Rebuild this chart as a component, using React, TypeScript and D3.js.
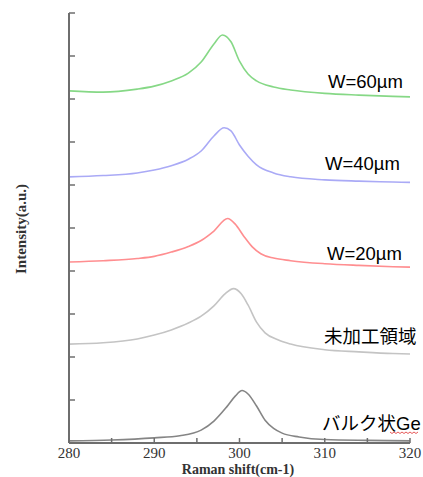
import React from "react";
import * as d3 from "d3";

const xTicks = [280, 285, 290, 295, 300, 305, 310, 315, 320];
const xTickLabels = ["280", "", "290", "", "300", "", "310", "", "320"];
const yTicks = [0, 1, 2, 3, 4, 5, 6, 7, 8, 9, 10];

const seriesNames = ["W=60µm", "W=40µm", "W=20µm", "未加工領域", "バルク状Ge"];
const seriesColors = ["#86d886", "#aaaaf6", "#ff8e90", "#c4c4c4", "#858585"];

const shiftW60 = [280, 284, 288, 290, 292, 294, 295.5, 297, 298, 299, 300, 301, 302, 304, 306, 310, 314, 318, 320];
const intW60 = [8.19, 8.16, 8.23, 8.3, 8.42, 8.6, 8.86, 9.28, 9.49, 9.33, 8.88, 8.58, 8.42, 8.28, 8.21, 8.13, 8.09, 8.06, 8.05];

const shiftW40 = [280, 284, 288, 290, 292, 294, 295.5, 297, 298.2, 299, 300, 301, 302, 304, 306, 310, 314, 318, 320];
const intW40 = [6.19, 6.22, 6.28, 6.35, 6.45, 6.6, 6.79, 7.14, 7.33, 7.26, 6.93, 6.67, 6.47, 6.28, 6.19, 6.12, 6.09, 6.07, 6.06];

const shiftW20 = [280, 284, 288, 290, 292, 294, 295.5, 297, 298.6, 299.5, 300.5, 301.5, 302.5, 304, 306, 310, 314, 318, 320];
const intW20 = [4.21, 4.24, 4.29, 4.34, 4.44, 4.57, 4.71, 4.93, 5.22, 5.09, 4.81, 4.56, 4.4, 4.3, 4.24, 4.17, 4.13, 4.1, 4.09];

const shiftRaw = [280, 284, 288, 290, 292, 294, 295.5, 297, 298.3, 299.3, 300.2, 301, 302, 303, 304.5, 306, 310, 314, 318, 320];
const intRaw = [2.3, 2.33, 2.42, 2.51, 2.63, 2.79, 2.95, 3.19, 3.47, 3.59, 3.47, 3.21, 2.81, 2.56, 2.4, 2.3, 2.17, 2.12, 2.08, 2.07];

const shiftBulk = [280, 285, 290, 293, 295.5, 297, 298.5, 299.5, 300.3, 301, 302, 303, 304, 305, 307, 310, 315, 320];
const intBulk = [0.05, 0.07, 0.12, 0.17, 0.3, 0.51, 0.84, 1.09, 1.22, 1.14, 0.86, 0.53, 0.34, 0.23, 0.14, 0.08, 0.06, 0.05];

const seriesShifts = [shiftW60, shiftW40, shiftW20, shiftRaw, shiftBulk];
const seriesInts = [intW60, intW40, intW20, intRaw, intBulk];

const labelPos = [
  { x: 328, y: 87.5 },
  { x: 325, y: 170 },
  { x: 327, y: 259.5 },
  { x: 324, y: 342.5 },
  { x: 322, y: 430 },
];

export default function App() {
  const width = 423;
  const height = 477;
  const x = d3.scaleLinear().domain([280, 320]).range([69, 410]);
  const y = d3.scaleLinear().domain([0, 10]).range([443, 13]);
  const line = d3
    .line<[number, number]>()
    .x((d) => x(d[0]))
    .y((d) => y(d[1]))
    .curve(d3.curveMonotoneX);

  const axisColor = "#6e6e6e";
  const serif = "'Liberation Serif', 'Times New Roman', serif";
  const sans = "'Liberation Sans', Arial, 'Noto Sans CJK JP', sans-serif";

  // wavy underline under "Ge"
  const wave: [number, number][] = [];
  for (let i = 0; i <= 14; i++) wave.push([390 + i * 2, 432 + (i % 2 === 0 ? 0 : 1.5)]);
  const wavePath = d3.line()(wave) || "";

  return (
    <svg
      width={width}
      height={height}
      style={{ position: "absolute", left: 0, top: 0, background: "#fff" }}
    >
      {seriesShifts.map((sx, i) => {
        const pts = sx.map((s, j) => [s, seriesInts[i][j]] as [number, number]);
        return (
          <path
            key={i}
            d={line(pts) || ""}
            fill="none"
            stroke={seriesColors[i]}
            strokeWidth={1.6}
          />
        );
      })}

      {/* y axis */}
      <line x1={x(280)} x2={x(280)} y1={y(10)} y2={y(0)} stroke={axisColor} strokeWidth={2} />
      {yTicks.map((t) => (
        <line key={t} x1={x(280)} x2={x(280) + 6} y1={y(t)} y2={y(t)} stroke={axisColor} strokeWidth={1.5} />
      ))}
      {/* x axis */}
      <line x1={x(280)} x2={x(320)} y1={y(0)} y2={y(0)} stroke={axisColor} strokeWidth={2} />
      {xTicks.map((t, i) => (
        <g key={t}>
          <line x1={x(t)} x2={x(t)} y1={y(0)} y2={y(0) - 5} stroke={axisColor} strokeWidth={1.5} />
          {xTickLabels[i] && (
            <text x={x(t)} y={458} textAnchor="middle" fontFamily={serif} fontSize={15} fill="#333">
              {xTickLabels[i]}
            </text>
          )}
        </g>
      ))}

      <text x={238} y={473.5} textAnchor="middle" fontFamily={serif} fontSize={14} fontWeight="bold" fill="#333">
        Raman shift(cm-1)
      </text>
      <text
        transform="translate(26,229) rotate(-90)"
        textAnchor="middle"
        fontFamily={serif}
        fontSize={15}
        fontWeight="bold"
        fill="#333"
      >
        Intensity(a.u.)
      </text>

      {seriesNames.map((n, i) => (
        <text key={n} x={labelPos[i].x} y={labelPos[i].y} fontFamily={sans} fontSize={18.5} fill="#000">
          {n}
        </text>
      ))}
      <path d={wavePath} fill="none" stroke="#e03030" strokeWidth={0.8} />
    </svg>
  );
}
